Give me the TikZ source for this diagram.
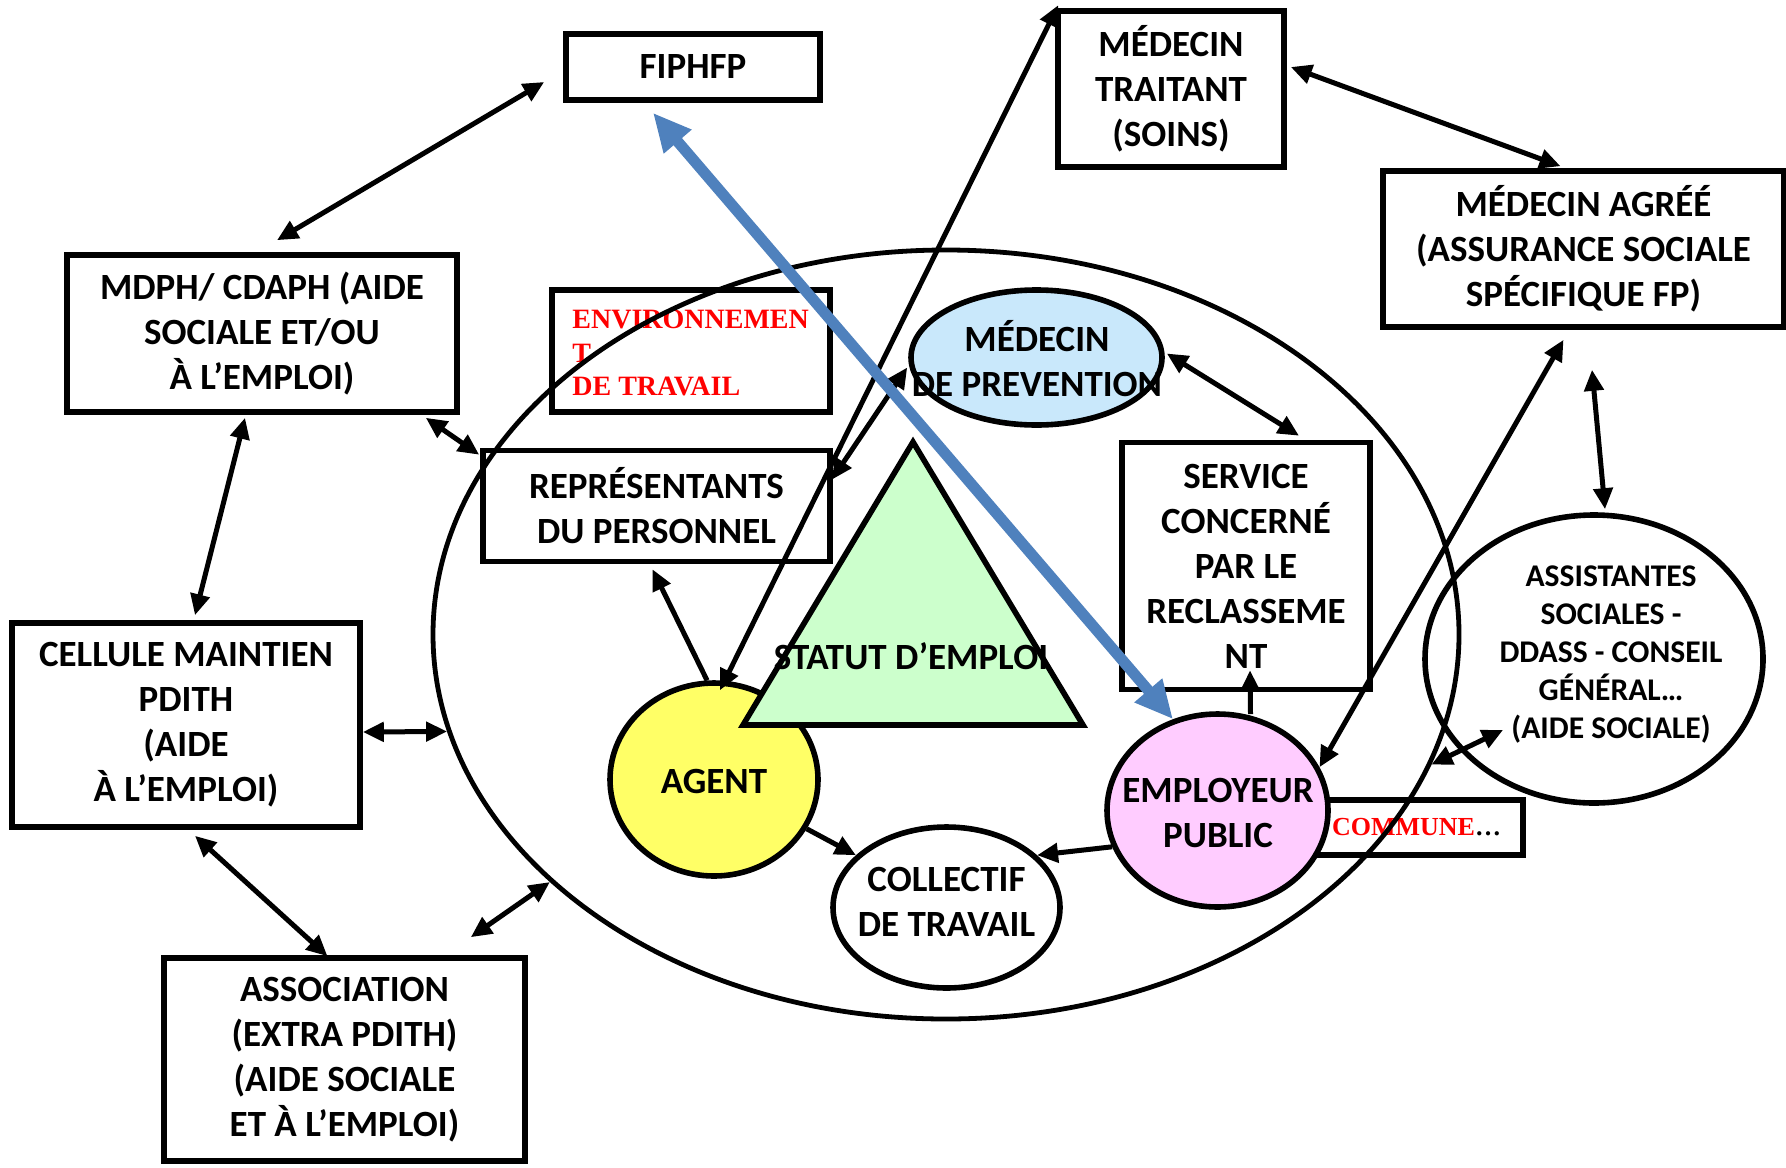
\documentclass[tikz,border=0pt]{standalone}
\usepackage{fontspec}
\setmainfont{Carlito}
\newfontfamily\serifred{Liberation Serif}
\usetikzlibrary{arrows.meta,calc,shapes.geometric}
\definecolor{agentyellow}{HTML}{FFFF66}
\definecolor{emppink}{HTML}{FFCCFF}
\definecolor{prevblue}{HTML}{C9E8FB}
\definecolor{trigreen}{HTML}{CCFFCC}
\definecolor{bluearrow}{HTML}{4F81BD}
\newcommand\mainfnt{\bfseries\fontsize{18.5}{22.5}\selectfont}
\newcommand\assistfnt{\bfseries\fontsize{15.8}{19}\selectfont}
\newcommand\envfnt{\serifred\bfseries\fontsize{14}{16.8}\selectfont}
\newcommand\communefnt{\serifred\bfseries\fontsize{13}{15.6}\selectfont}
\begin{document}
\begin{tikzpicture}[x=0.5pt,y=-0.5pt,
  box/.style={draw, line width=2.8pt, rectangle, inner sep=0pt, align=center, font=\mainfnt},
  ell/.style={draw, line width=2.8pt, ellipse, inner sep=0pt},
  lbl/.style={inner sep=0pt, align=center, font=\mainfnt},
  link/.style={line width=2.5pt},
  both/.style={link, {Triangle[length=10.5pt,width=9.5pt]}-{Triangle[length=10.5pt,width=9.5pt]}},
  one/.style={link, -{Triangle[length=10.5pt,width=9.5pt]}},
  bluearr/.style={line width=5.5pt, draw=bluearrow, {Triangle[length=19pt,width=17pt]}-{Triangle[length=19pt,width=17pt]}}
]
\fill[white] (0,0) rectangle (1786,1167);
\useasboundingbox (0,0) rectangle (1786,1167);

% boxes
\node[box, minimum width=127pt, minimum height=33pt] (fiphfp) at (693,67) {FIPHFP};
\node[box, minimum width=113pt, minimum height=78pt] (traitant) at (1171,89) {MÉDECIN\\TRAITANT\\(SOINS)};
\node[box, minimum width=200.5pt, minimum height=78pt] (agree) at (1583.5,249) {MÉDECIN AGRÉÉ\\(ASSURANCE SOCIALE\\SPÉCIFIQUE FP)};
\node[box, minimum width=195pt, minimum height=78.5pt] (mdph) at (262,333.5) {MDPH/ CDAPH (AIDE\\SOCIALE ET/OU\\À L’EMPLOI)};
\node[box, minimum width=139pt, minimum height=61pt] (env) at (691,351) {};
\node[anchor=west, inner sep=0pt, align=left, text=red, font=\envfnt] (envt) at (572,353) {ENVIRONNEMEN\\T\\DE TRAVAIL};
\node[box, minimum width=173.5pt, minimum height=55.5pt] (repr) at (656.5,506) {REPRÉSENTANTS\\DU PERSONNEL};
\node[box, minimum width=124pt, minimum height=123.5pt] (service) at (1246,566) {SERVICE\\CONCERNÉ\\PAR LE\\RECLASSEME\\NT};
\node[box, minimum width=174pt, minimum height=102pt] (cellule) at (186,725) {CELLULE MAINTIEN\\PDITH\\(AIDE\\À L’EMPLOI)};
\node[box, minimum width=180.5pt, minimum height=101.5pt] (assoc) at (344.5,1059.5) {ASSOCIATION\\(EXTRA PDITH)\\(AIDE SOCIALE\\ET À L’EMPLOI)};
\node[box, font=\communefnt, minimum width=106.5pt, minimum height=27.5pt] (commune) at (1416.5,827.5) {\textcolor{red}{COMMUNE}…};

% big ellipse
\node[ell, line width=2.4pt, minimum width=513pt, minimum height=384.5pt] (big) at (946,634.5) {};

% ellipses
\node[ell, fill=prevblue, minimum width=125.5pt, minimum height=67.5pt] (prev) at (1036.5,357.5) {};
\node[ell, minimum width=169pt, minimum height=144pt] (assist) at (1594,659) {};
\node[ell, fill=agentyellow, minimum width=104pt, minimum height=96.5pt] (agent) at (714,779.5) {};
\node[ell, fill=emppink, minimum width=110.5pt, minimum height=96.5pt] (employeur) at (1217.5,810.5) {};
\node[ell, minimum width=113.5pt, minimum height=80.5pt] (collectif) at (946.5,907.5) {};

% triangle
\draw[line width=2.8pt, fill=trigreen, line join=miter] (913,442) -- (1083,725) -- (743,725) -- cycle;

% connectors
\draw[both] ($(fiphfp.west)+(-19,15)$) -- ($(mdph.north)+(15,-12)$);
\draw[both] ($(mdph.south)+(-17,3)$) -- ($(cellule.north)+(9,-5)$);
\draw[both] ($(mdph.south east)+(-34,3)$) -- ($(repr.north west)+(-1,7)$);
\draw[both] ($(cellule.east)+(0,7)$) -- (big.191);
\draw[both] ($(cellule.south)+(9,6)$) -- ($(assoc.north)+(-17,1)$);
\draw[both] (big.212) -- ($(assoc.north east)+(-57,-18)$);
\draw[one] (agent.94) -- ($(repr.south)+(-4,5)$);
\draw[both] ($(agent.north)+(6,10)$) -- ($(traitant.north west)+(3,-3)$);
\draw[both] ($(repr.north east)+(-1,32)$) -- ($(prev.west)+(-1,10)$);
\draw[both] ($(prev.east)+(2,-4)$) -- ($(service.north)+(53,-4)$);
\draw[both] ($(traitant.east)+(4,-22)$) -- ($(agree.north)+(-23,-2)$);
\draw[both] ($(agree.south)+(-20,10)$) -- (employeur.23);
\draw[both] ($(agree.south)+(8.5,40)$) -- ($(assist.north)+(11,-3)$);
\draw[both] (big.345) -- ($(assist.center)+(-91,71)$);
\draw[one] ($(employeur.north)+(33,3)$) -- ($(service.south)+(4,-22)$);
\draw[one] (employeur.199) -- (collectif.30);
\draw[one] (agent.-28) -- (collectif.150);
\draw[bluearr] (employeur.116) -- ($(fiphfp.south)+(-40,10)$);

% texts
\node[lbl] (tprev) at (1037,359) {MÉDECIN\\DE PREVENTION};
\node[lbl, font=\assistfnt] (tassist) at (1611,655) {ASSISTANTES\\SOCIALES -\\DDASS - CONSEIL\\GÉNÉRAL…\\(AIDE SOCIALE)};
\node[lbl] (tagent) at (714,781) {AGENT};
\node[lbl] (temp) at (1218,813) {EMPLOYEUR\\PUBLIC};
\node[lbl] (tcoll) at (946.5,902) {COLLECTIF\\DE TRAVAIL};
\node[lbl] (statut) at (911,656) {STATUT D’EMPLOI};
\end{tikzpicture}
\end{document}
